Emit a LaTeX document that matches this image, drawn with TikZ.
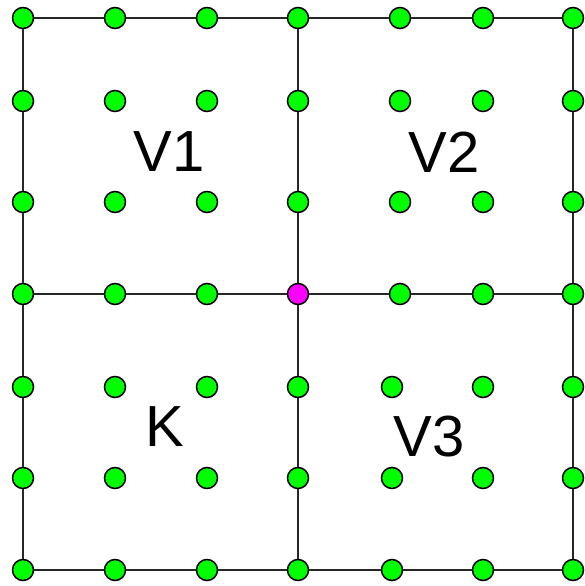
\documentclass[tikz,border=0pt]{standalone}
\usepackage{fontspec}
\setmainfont{Liberation Sans}
\definecolor{dotgreen}{RGB}{0,255,0}
\definecolor{dotmagenta}{RGB}{255,0,255}
\begin{document}
\begin{tikzpicture}[x=1pt, y=-1pt]
\useasboundingbox (0,0) rectangle (584,586);
\tikzset{dot/.style={circle, draw=black, line width=1.5pt, minimum size=21pt, inner sep=0pt}}
\tikzset{gridline/.style={line width=2pt, draw=black!85}}
\tikzset{lbl/.style={inner sep=0pt, font=\fontsize{58}{60}\selectfont}}

% upper half of the dots
\foreach \x [count=\i from 0] in {23,115,207,298,400,483,573}
  \foreach \y [count=\j from 0] in {18,101,202,294} {
    \def\dotcol{dotgreen}
    \ifnum\i=3 \ifnum\j=3 \def\dotcol{dotmagenta}\fi\fi
    \node[dot, fill=\dotcol] (d\i-\j) at (\x,\y) {};
  }
% lower half
\foreach \x [count=\i from 0] in {23,115,207,298,392,483,573}
  \foreach \y [count=\j from 4] in {387,478,570}
    \node[dot, fill=dotgreen] (d\i-\j) at (\x,\y) {};

% lines
\foreach \j in {0,3,6}
  \foreach \i in {0,...,5} {
    \pgfmathtruncatemacro\k{\i+1}
    \draw[gridline] (d\i-\j) -- (d\k-\j);
  }
\foreach \i in {0,3,6}
  \foreach \j in {0,...,5} {
    \pgfmathtruncatemacro\k{\j+1}
    \draw[gridline] (d\i-\j) -- (d\i-\k);
  }

\node[lbl] (v1) at (169,152) {V1};
\node[lbl] (v2) at (444,152) {V2};
\node[lbl] (k) at (165,427) {K};
\node[lbl] (v3) at (429,437) {V3};
\end{tikzpicture}
\end{document}
